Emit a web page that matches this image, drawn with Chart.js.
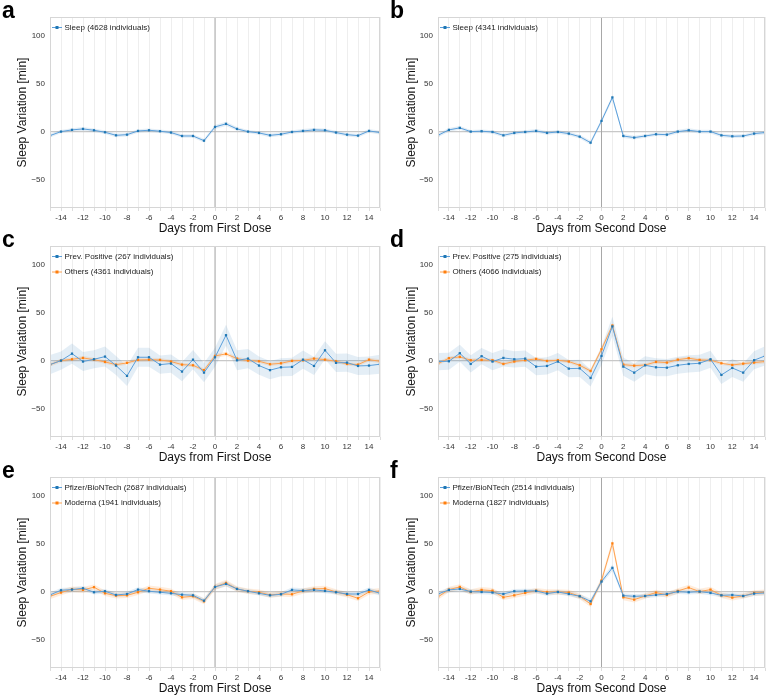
<!DOCTYPE html>
<html>
<head>
<meta charset="utf-8">
<script src="https://cdn.jsdelivr.net/npm/chart.js@4.4.1/dist/chart.umd.min.js"></script>
<style>
html,body{margin:0;padding:0;background:#fff;}
body{width:769px;height:696px;position:relative;overflow:hidden;}
canvas{position:absolute;}
</style>
</head>
<body>
<canvas id="pa" width="384" height="236"></canvas>
<canvas id="pb" width="385" height="236"></canvas>
<canvas id="pc" width="384" height="236"></canvas>
<canvas id="pd" width="385" height="236"></canvas>
<canvas id="pe" width="384" height="236"></canvas>
<canvas id="pf" width="385" height="236"></canvas>
<script>
// ---------------- DATA ----------------
const days = [-15,-14,-13,-12,-11,-10,-9,-8,-7,-6,-5,-4,-3,-2,-1,0,1,2,3,4,5,6,7,8,9,10,11,12,13,14,15];
const xTickValues = [-14,-12,-10,-8,-6,-4,-2,0,2,4,6,8,10,12,14];
const xTickLabels = ['-14','-12','-10','-8','-6','-4','-2','0','2','4','6','8','10','12','14'];
const yTickValues = [-50,0,50,100];
const yTickLabels = ['\u221250','0','50','100'];
const panelLetters = ['a','b','c','d','e','f'];
const xTitles = ['Days from First Dose','Days from Second Dose'];
const yTitle = 'Sleep Variation [min]';

// panel a
const aSleepLabel = 'Sleep (4628 individuals)';
const aSleep   = [-4.2,0,1.8,2.8,1.4,-0.7,-3.9,-3.2,0.7,1.4,0.4,-1,-4.6,-4.6,-9.5,4.9,8.1,2.8,0,-1.4,-3.9,-2.8,-0.4,0.7,1.8,1.4,-1,-3.2,-4.2,0.7,-1];
const aSleepCI = [2,1.8,1.8,1.9,1.8,1.8,1.9,1.8,1.8,1.9,1.8,1.8,1.9,1.9,2,2.1,2.2,1.9,1.8,1.8,1.9,1.8,1.8,1.9,1.9,1.9,1.8,1.8,1.9,1.9,2];
// panel b
const bSleepLabel = 'Sleep (4341 individuals)';
const bSleep   = [-3.9,1.8,3.9,0,0.4,-0.4,-3.9,-1.4,-0.4,0.7,-1.4,-0.4,-2.1,-5.3,-11.6,11.2,35.8,-4.6,-6.3,-4.6,-2.8,-3.2,0,1.4,0,0,-3.9,-4.9,-4.6,-2.1,-1];
const bSleepCI = [2,1.9,2,1.8,1.8,1.9,1.9,1.8,1.8,1.9,1.9,1.8,1.9,2,2.1,2.3,2.6,2,1.9,1.9,1.9,1.9,1.9,2,1.9,1.9,1.9,1.9,1.9,1.9,2];
// panel c
const cPosLabel = 'Prev. Positive (267 individuals)';
const cPos   = [-4.2,0,7.3,-1,1.4,4.2,-5.2,-16,3.5,3.5,-4.2,-3.1,-11.5,1,-12.6,3.5,26.6,0.3,2.1,-5.2,-10,-7,-6.6,1,-5.6,10.8,-2.4,-2.1,-5.6,-5.2,-3.8];
const cPosCI = [10,9.5,10.5,10,9.5,10.5,10,10.5,10,10,9.5,9.5,10,10,10,10,11,10.5,10,9.5,9.5,9.5,9.5,9.5,9.5,9.5,9.5,9.5,9.5,9.5,10];
const cOthLabel = 'Others (4361 individuals)';
const cOth   = [-4.2,0,1.4,2.8,1,-1.4,-4.2,-2.4,0.7,1,0.7,-1,-4.2,-4.9,-10,4.9,7,2.1,0,-0.7,-3.8,-2.8,-0.3,0.3,2.1,1,-0.7,-3.5,-4.2,1,-0.7];
const cOthCI = [2,1.9,1.9,1.9,1.9,1.9,1.9,1.9,1.9,1.9,1.9,1.9,1.9,1.9,2,2.1,2.2,1.9,1.9,1.9,1.9,1.9,1.9,1.9,1.9,1.9,1.9,1.9,1.9,1.9,2];
// panel d
const dPosLabel = 'Prev. Positive (275 individuals)';
const dPos   = [-1,-0.7,7.7,-3.5,4.6,-1,2.8,1.4,2.1,-6.3,-5.6,-1,-8.4,-8.1,-18.2,4.9,35.8,-6.3,-12.6,-4.9,-7,-7.4,-4.9,-3.5,-2.8,1.4,-15,-7.7,-12.6,0.4,4.9];
const dPosCI = [9,9,9,9,8.5,9,9,8.5,8.5,9,9,9,9,9,9,9.5,10,9.5,9.5,9.5,9.5,9,9,9,9,9,9.5,9.5,9.5,9.5,10];
const dOthLabel = 'Others (4066 individuals)';
const dOth   = [-3.2,2.5,3.9,0.4,0.7,0.4,-3.5,-1,0.4,1.8,-0.4,0.4,-1,-4.9,-10.9,11.9,36.8,-4.2,-5.3,-4.6,-1.4,-2.1,1,2.5,0.7,0.4,-2.8,-4.6,-3.2,-2.1,-1];
const dOthCI = [2,1.9,1.9,1.9,1.9,1.9,1.9,1.9,1.9,1.9,1.9,1.9,1.9,2,2.1,2.3,2.6,2,1.9,1.9,1.9,1.9,1.9,1.9,1.9,1.9,1.9,1.9,1.9,1.9,2];
// panel e
const ePfzLabel = 'Pfizer/BioNTech (2687 individuals)';
const ePfz   = [-3.5,1.4,2.1,3.5,-0.7,0.4,-3.5,-2.5,2.1,0.4,-0.7,-1.8,-3.2,-3.9,-9.5,4.9,8.1,2.8,0.4,-1.8,-3.9,-2.8,1.8,1,1.8,0.7,-0.7,-2.5,-2.5,1.8,-1.8];
const ePfzCI = [2.5,2.4,2.4,2.4,2.4,2.4,2.4,2.4,2.4,2.4,2.4,2.4,2.4,2.4,2.5,2.6,2.8,2.4,2.4,2.4,2.4,2.4,2.4,2.4,2.4,2.4,2.4,2.4,2.4,2.4,2.5];
const eModLabel = 'Moderna (1941 individuals)';
const eMod   = [-4.9,-1,2.5,1.8,4.6,-1.8,-4.2,-3.9,-0.7,3.5,2.1,0.4,-6,-4.9,-10.2,4.9,9.1,2.8,0.4,-0.7,-3.5,-2.5,-2.8,0.7,2.8,3.2,-0.4,-3.2,-7,-0.4,0.7];
const eModCI = [3,2.9,2.9,2.9,2.9,2.9,2.9,2.9,2.9,2.9,2.9,2.9,2.9,2.9,3,3.1,3.3,2.9,2.9,2.9,2.9,2.9,2.9,2.9,2.9,2.9,2.9,2.9,2.9,2.9,3];
// panel f
const fPfzLabel = 'Pfizer/BioNTech (2514 individuals)';
const fPfz   = [-2.5,1.8,2.8,0,-0.4,-1,-2.5,0.4,0.7,0.7,-2.1,-0.4,-2.5,-4.9,-10.2,10.5,24.9,-4.2,-4.9,-4.6,-3.5,-2.5,0,-0.7,0,-1.4,-3.9,-3.5,-4.6,-2.1,-1.4];
const fPfzCI = [2.5,2.4,2.4,2.4,2.4,2.4,2.4,2.4,2.4,2.4,2.4,2.4,2.4,2.5,2.6,2.8,3.4,2.5,2.4,2.4,2.4,2.4,2.4,2.4,2.4,2.4,2.4,2.4,2.4,2.4,2.5];
const fModLabel = 'Moderna (1827 individuals)';
const fMod   = [-5.6,2.1,4.9,-0.4,1.8,1,-6,-3.9,-1.4,1,-0.4,-0.4,-1,-4.9,-13,11.6,50.5,-6,-8.4,-4.6,-1,-3.5,0.7,4.2,0,2.1,-3.9,-6.3,-4.6,-1.4,-0.7];
const fModCI = [3,2.9,2.9,2.9,2.9,2.9,2.9,2.9,2.9,2.9,2.9,2.9,2.9,3,3.1,3.4,4,3,2.9,2.9,2.9,2.9,2.9,2.9,2.9,2.9,2.9,2.9,2.9,2.9,3];

// ---------------- STYLE ----------------
const FONT = "'Liberation Sans', Arial, Helvetica, sans-serif";
const BLUE = {line:'#5b9fdb', point:'#1f77b4', band:'rgba(31,119,180,0.12)'};
const ORANGE = {line:'#ffa352', point:'#ff7f0e', band:'rgba(255,127,14,0.14)'};

const panels = [
  {id:'pa', x:0,   y:0,   side:'L', xt:0, series:[[aSleepLabel,aSleep,aSleepCI,BLUE]]},
  {id:'pb', x:384, y:0,   side:'R', xt:1, series:[[bSleepLabel,bSleep,bSleepCI,BLUE]]},
  {id:'pc', x:0,   y:229, side:'L', xt:0, series:[[cPosLabel,cPos,cPosCI,BLUE],[cOthLabel,cOth,cOthCI,ORANGE]]},
  {id:'pd', x:384, y:229, side:'R', xt:1, series:[[dPosLabel,dPos,dPosCI,BLUE],[dOthLabel,dOth,dOthCI,ORANGE]]},
  {id:'pe', x:0,   y:460, side:'L', xt:0, series:[[ePfzLabel,ePfz,ePfzCI,BLUE],[eModLabel,eMod,eModCI,ORANGE]]},
  {id:'pf', x:384, y:460, side:'R', xt:1, series:[[fPfzLabel,fPfz,fPfzCI,BLUE],[fModLabel,fMod,fModCI,ORANGE]]},
];

const boxPlugin = {
  id:'boxPlugin',
  beforeDatasetsDraw(chart){
    const {ctx, chartArea:a, scales} = chart;
    ctx.save();
    const y0 = scales.y.getPixelForValue(0);
    ctx.strokeStyle = '#c8c8c8'; ctx.lineWidth = 1.3;
    ctx.beginPath(); ctx.moveTo(a.left, y0); ctx.lineTo(a.right, y0); ctx.stroke();
    const x0 = scales.x.getPixelForValue(0);
    ctx.strokeStyle = '#a8a8a8'; ctx.lineWidth = 1;
    ctx.beginPath(); ctx.moveTo(x0, a.top); ctx.lineTo(x0, a.bottom); ctx.stroke();
    ctx.restore();
  },
  afterDraw(chart, args, opts){
    const {ctx, chartArea:a} = chart;
    ctx.save();
    ctx.strokeStyle = '#d6d6d6'; ctx.lineWidth = 1;
    ctx.strokeRect(a.left+0.5, a.top+0.5, a.right-a.left-1, a.bottom-a.top-1);
    ctx.font = '8px ' + FONT;
    ctx.textBaseline = 'middle';
    opts.items.forEach((it, i) => {
      const yy = a.top + 10.5 + i*15.5;
      const lx = a.left + 2;
      ctx.strokeStyle = it.c.line; ctx.lineWidth = 1;
      ctx.beginPath(); ctx.moveTo(lx, yy); ctx.lineTo(lx+10, yy); ctx.stroke();
      ctx.fillStyle = it.c.point;
      ctx.fillRect(lx+5-1.5, yy-1.5, 3, 3);
      ctx.fillStyle = '#222';
      ctx.fillText(it.label, lx+12.5, yy);
    });
    ctx.font = 'bold 23px ' + FONT;
    ctx.textBaseline = 'alphabetic';
    ctx.fillStyle = '#000';
    ctx.fillText(opts.letter, opts.letterX, 17.5);
    ctx.restore();
  }
};

panels.forEach((p, idx) => {
  const cv = document.getElementById(p.id);
  cv.style.left = p.x + 'px'; cv.style.top = p.y + 'px';
  const datasets = [];
  const legendItems = [];
  p.series.forEach(([label, vals, ci, col]) => {
    datasets.push({
      data: days.map((d,i)=>({x:d, y:vals[i]-ci[i]})),
      borderWidth:0, pointRadius:0, fill:false, tension:0, order:5
    });
    datasets.push({
      data: days.map((d,i)=>({x:d, y:vals[i]+ci[i]})),
      borderWidth:0, pointRadius:0, fill:'-1', backgroundColor:col.band, tension:0, order:5
    });
    legendItems.push({label, c:col});
  });
  p.series.forEach(([label, vals, ci, col]) => {
    datasets.push({
      label,
      data: days.map((d,i)=>({x:d, y:vals[i]})),
      borderColor: col.line, borderWidth: 1, fill:false, tension:0,
      pointStyle:'rect', pointRadius:1.6, pointBackgroundColor: col.point,
      pointBorderWidth:0, order:1
    });
  });
  const yw = p.side === 'L' ? 50 : 54;
  new Chart(cv, {
    type:'line',
    data:{datasets},
    options:{
      responsive:false, animation:false, devicePixelRatio:1,
      layout:{padding:{top:17, right: p.side==='L'?4:0, left:0, bottom:0}},
      plugins:{
        legend:{display:false}, tooltip:{enabled:false},
        boxPlugin:{items:legendItems, letter:panelLetters[idx], letterX: p.side==='L'?2:6}
      },
      scales:{
        x:{
          type:'linear', min:-15, max:15,
          afterBuildTicks: s => { s.ticks = days.map(v=>({value:v})); },
          afterFit: s => { s.height = 28; },
          ticks:{
            autoSkip:false, maxRotation:0, padding:2,
            font:{family:FONT, size:8}, color:'#333',
            callback: v => { const k = xTickValues.indexOf(v); return k>=0 ? xTickLabels[k] : ''; }
          },
          grid:{color:'#eeeeee', lineWidth:1, tickLength:3, tickColor:'#dddddd'},
          border:{display:false},
          title:{display:true, text:xTitles[p.xt], font:{family:FONT, size:12}, color:'#111', padding:{top:0,bottom:0}}
        },
        y:{
          type:'linear', min:-80, max:120,
          afterBuildTicks: s => { s.ticks = yTickValues.map(v=>({value:v})); },
          afterFit: s => { s.width = yw; },
          ticks:{
            font:{family:FONT, size:8}, color:'#333', padding:5,
            callback: v => { const k = yTickValues.indexOf(v); return k>=0 ? yTickLabels[k] : ''; }
          },
          grid:{display:false, drawTicks:false},
          border:{display:false},
          title:{display:true, text:yTitle, font:{family:FONT, size:12}, color:'#111',
                 padding:{top: p.side==='L'?15.5:20.5, bottom:0}}
        }
      }
    },
    plugins:[boxPlugin]
  });
});
</script>
</body>
</html>
